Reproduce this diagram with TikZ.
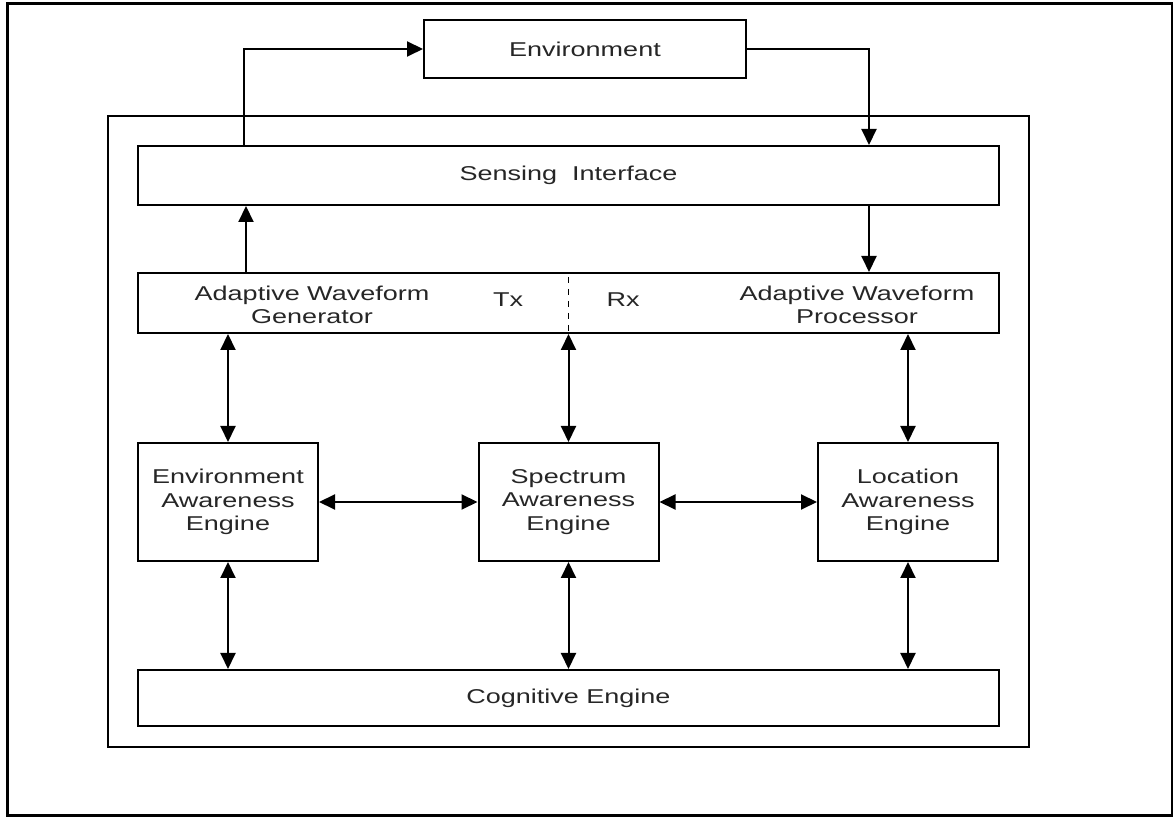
\documentclass[tikz,border=0pt]{standalone}
\usepackage{fontspec}
\setmainfont[FakeStretch=1.35]{Liberation Sans}
\usetikzlibrary{arrows.meta}
\tikzset{
blockbox/.style={
	draw, line width=1pt, rectangle, inner sep=0pt,
	  text=black!85, align=center,
	    font=\fontsize{10}{11.75}\selectfont},
plaintext/.style={text=black!85, align=center, inner sep=0pt,
	font=\fontsize{10}{11.75}\selectfont},
arr/.style={line width=1pt, -{Triangle[length=8pt,width=7.5pt]}},
dblarr/.style={line width=1pt,
	{Triangle[length=8pt,width=7.5pt]}-{Triangle[length=8pt,width=7.5pt]}}
}

\begin{document}
\begin{tikzpicture}[x=0.5pt, y=-0.5pt]
	\useasboundingbox (0,0) rectangle (1173,817);
	\draw[line width=1.5pt] (7,4) rectangle (1172,815);
	\draw[line width=1pt] (108,116) rectangle (1029,747);
	\node[blockbox, minimum width=161pt, minimum height=29pt] (env) at (585,49) {Environment};
	\node[blockbox, minimum width=430.5pt, minimum height=29.5pt] (sense) at (568.5,175.5) {Sensing\ \ Interface};
	\node[blockbox, minimum width=430.5pt, minimum height=30pt] (awf) at (568.5,303) {};
	\node[plaintext] (gen) at (312,305) {Adaptive Waveform\\Generator};
	\node[plaintext] (proc) at (857,305) {Adaptive Waveform\\Processor};
	\node[plaintext] (tx) at (508,300) {Tx};
	\node[plaintext] (rx) at (623,300) {Rx};
	\node[blockbox, minimum width=90pt, minimum height=59pt] (eae) at (228,502) {Environment\\Awareness\\Engine};
	\node[blockbox, minimum width=90pt, minimum height=59pt] (sae) at (568.5,502) {Spectrum\\Awareness\\Engine};
	\node[blockbox, minimum width=90pt, minimum height=59pt] (lae) at (908,502) {Location\\Awareness\\Engine};
	\node[blockbox, minimum width=430.5pt, minimum height=28pt] (cog) at (568.5,698) {Cognitive Engine};
	% loop through the environment
	\draw[arr] ([xshift=53.5pt]sense.north west) |- (env.west);
	\draw[arr] (env.east) -| ([xshift=-65.5pt]sense.north east);
	\draw[arr] ([xshift=54.5pt]awf.north west) -- ([xshift=54.5pt]sense.south west);
	\draw[arr] ([xshift=-65.5pt]sense.south east) -- ([xshift=-65.5pt]awf.north east);
	\draw[line width=0.6pt, dashed] ([yshift=-2.5pt]awf.north) -- (awf.south);
	% engines
	\foreach \eng in {eae, sae, lae} {
		\draw[dblarr] (awf.south -| \eng) -- (\eng.north);
		\draw[dblarr] (\eng.south) -- (cog.north -| \eng);
	}
	\draw[dblarr] (eae.east) -- (sae.west);
	\draw[dblarr] (sae.east) -- (lae.west);
\end{tikzpicture}
\end{document}
